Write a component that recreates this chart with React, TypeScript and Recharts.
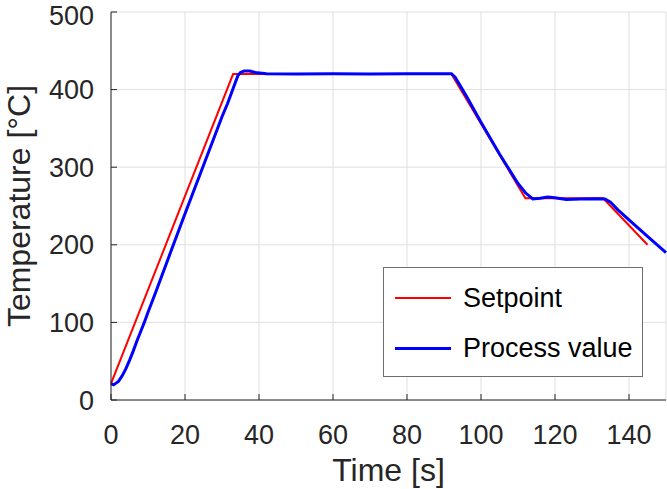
import { LineChart, Line, XAxis, YAxis, CartesianGrid, Legend } from "recharts";

// Setpoint profile (piecewise linear) and measured process value
const setpointTime = [0, 33, 92, 112, 133, 145];
const setpointTemp = [21, 420, 420, 260, 260, 200];

const processTime = [
  0, 0.7, 2, 3, 4, 5, 6, 7, 8, 9, 10, 12, 16, 20, 24, 28, 30, 31.5, 32.5, 33.5,
  34.3, 35, 36, 37.5, 39, 42, 50, 60, 70, 80, 90, 92, 93, 94, 96, 100, 105, 110,
  112, 114, 116, 118, 120, 123, 127, 131, 133.5, 135, 137, 140, 145, 150,
];
const processTemp = [
  21, 19.5, 24, 31, 40, 51, 63, 76, 88, 100, 113, 138, 189, 240, 290, 340, 365,
  382, 395, 408, 418, 422, 424, 424, 422, 420.5, 420, 420.5, 420, 420.5, 420.5,
  420.5, 416, 408, 392, 358, 317, 279, 267, 259, 260, 261.5, 260.5, 258.5, 259,
  259.5, 259, 255, 245, 232, 211, 190,
];

const xTicks = [0, 20, 40, 60, 80, 100, 120, 140];
const yTicks = [0, 100, 200, 300, 400, 500];

const SERIES = [
  { name: "Setpoint", color: "#ff0000", width: 2, t: setpointTime, v: setpointTemp },
  { name: "Process value", color: "#0000ff", width: 3, t: processTime, v: processTemp },
];

const INK = "#262626";
const FONT = "'Liberation Sans', Arial, Helvetica, sans-serif";

function LegendBox() {
  return (
    <div
      style={{
        width: 260,
        height: 110,
        background: "#fff",
        border: "1px solid #6e6e6e",
        fontFamily: FONT,
        fontSize: 27,
        color: "#000",
        boxSizing: "border-box",
        paddingTop: 9,
      }}
    >
      {SERIES.map((s) => (
        <div key={s.name} style={{ display: "flex", alignItems: "center", height: 42, marginBottom: 8 }}>
          <div style={{ width: 56, height: s.width, background: s.color, marginLeft: 11, marginRight: 12 }} />
          <span>{s.name}</span>
        </div>
      ))}
    </div>
  );
}

export default function App() {
  return (
    <div style={{ position: "absolute", left: 0, top: 0, background: "#fff" }}>
      <LineChart width={667} height={489} margin={{ top: 12, right: 1, left: 0, bottom: 0 }}>
        <CartesianGrid stroke="#dfdfdf" strokeWidth={1} />
        <XAxis
          type="number"
          dataKey="t"
          domain={[0, 150]}
          ticks={xTicks}
          height={89}
          tickSize={-6}
          tickMargin={31}
          stroke={INK}
          tick={{ fill: INK, fontSize: 27, fontFamily: FONT }}
          label={({ viewBox }: any) => (
            <text
              x={viewBox.x + viewBox.width / 2}
              y={481}
              textAnchor="middle"
              fill={INK}
              fontSize={32}
              fontFamily={FONT}
            >
              Time [s]
            </text>
          )}
        />
        <XAxis
          xAxisId="top"
          orientation="top"
          type="number"
          domain={[0, 150]}
          ticks={xTicks}
          height={0}
          tickSize={-6}
          tick={false}
          stroke={INK}
        />
        <YAxis
          type="number"
          domain={[0, 500]}
          ticks={yTicks}
          width={111}
          tickSize={-6}
          tickMargin={23}
          stroke={INK}
          tick={{ fill: INK, fontSize: 27, fontFamily: FONT }}
          label={({ viewBox }: any) => (
            <text
              transform={`translate(30, ${viewBox.y + viewBox.height / 2}) rotate(-90)`}
              textAnchor="middle"
              fill={INK}
              fontSize={32}
              fontFamily={FONT}
            >
              Temperature [°C]
            </text>
          )}
        />
        <YAxis
          yAxisId="right"
          orientation="right"
          type="number"
          domain={[0, 500]}
          ticks={yTicks}
          width={0}
          tickSize={-6}
          tick={false}
          stroke={INK}
        />
        <Legend
          layout="vertical"
          align="center"
          verticalAlign="middle"
          wrapperStyle={{ position: "absolute", left: 383, top: 267, width: "auto" }}
          content={() => <LegendBox />}
        />
        {SERIES.map((s) => (
          <Line
            key={s.name}
            name={s.name}
            data={s.t.map((t, i) => ({ t, v: s.v[i] }))}
            dataKey="v"
            type="linear"
            stroke={s.color}
            strokeWidth={s.width}
            dot={false}
            activeDot={false}
            isAnimationActive={false}
          />
        ))}
      </LineChart>
    </div>
  );
}
